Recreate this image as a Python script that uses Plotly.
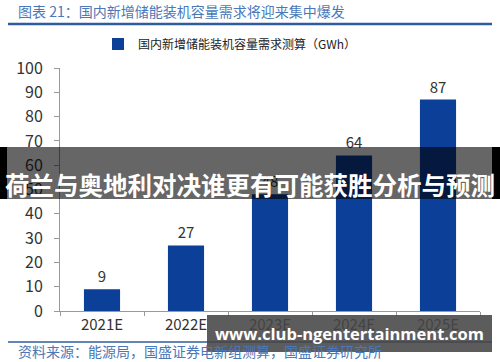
import plotly.graph_objects as go

categories = ["2021E", "2022E", "2023E", "2024E", "2025E"]
values = [9, 27, 48, 64, 87]
y_ticks = [0, 10, 20, 30, 40, 50, 60, 70, 80, 90, 100]
series_name = "国内新增储能装机容量需求测算（GWh）"
title_text = "图表 21：国内新增储能装机容量需求将迎来集中爆发"
source_text = "资料来源：能源局，国盛证券电新组测算，国盛证券研究所"
banner_text = "荷兰与奥地利对决谁更有可能获胜分析与预测"
url_text = "www.club-ngentertainment.com"

W, H = 500, 362
L, R, T, B = 60, 20, 68, 51
PW, PH = W - L - R, H - T - B

def px(x):
    return (x - L) / PW

def py(y):
    return (H - B - y) / PH

FONT = "Noto Sans CJK SC"
BLUE = "#0B3F98"
TXT_BLUE = "#4A78B8"

fig = go.Figure()
fig.add_trace(go.Bar(
    x=categories, y=values, name=series_name,
    marker=dict(color=BLUE, line=dict(width=0)),
    width=0.43,
    text=[str(v) for v in values], textposition="outside",
    textfont=dict(size=15, color="#333333", family=FONT),
    cliponaxis=False,
))

shapes = [
    dict(type="line", xref="paper", yref="paper", x0=px(8), x1=px(492), y0=py(24), y1=py(24),
         line=dict(color="#2F5C9E", width=2.5)),
    dict(type="line", xref="paper", yref="paper", x0=px(8), x1=px(492), y0=py(342), y1=py(342),
         line=dict(color="#2F5C9E", width=1.5)),
    # watermark banner
    dict(type="rect", xref="paper", yref="paper", x0=px(0), x1=px(500), y0=py(147), y1=py(199),
         fillcolor="rgba(0,0,0,0.6)", line=dict(width=0), layer="above"),
    dict(type="rect", xref="paper", yref="paper", x0=px(0), x1=px(7), y0=py(147), y1=py(199),
         fillcolor="rgba(0,0,0,1)", line=dict(width=0), layer="above"),
    dict(type="rect", xref="paper", yref="paper", x0=px(492), x1=px(500), y0=py(147), y1=py(199),
         fillcolor="rgba(0,0,0,1)", line=dict(width=0), layer="above"),
    dict(type="rect", xref="paper", yref="paper", x0=px(207), x1=px(492), y0=py(315), y1=py(352),
         fillcolor="rgba(70,70,70,0.88)", line=dict(width=0), layer="above"),
]

annotations = [
    dict(text=title_text, xref="paper", yref="paper", x=px(16), y=py(11), xanchor="left", yanchor="middle",
         showarrow=False, font=dict(size=14, color=TXT_BLUE, family=FONT)),
    dict(text=source_text, xref="paper", yref="paper", x=px(16), y=py(351), xanchor="left", yanchor="middle",
         showarrow=False, font=dict(size=14, color=TXT_BLUE, family=FONT)),
    dict(text="<b>" + banner_text + "</b>", xref="paper", yref="paper", x=px(250), y=py(184),
         xanchor="center", yanchor="middle", showarrow=False,
         font=dict(size=24.5, color="white", family=FONT)),
    dict(text="<b>" + url_text + "</b>", xref="paper", yref="paper", x=px(349), y=py(333),
         xanchor="center", yanchor="middle", showarrow=False,
         font=dict(size=16.5, color="white", family="Open Sans")),
]

fig.update_layout(
    width=W, height=H,
    margin=dict(l=L, r=R, t=T, b=B, pad=0),
    paper_bgcolor="white", plot_bgcolor="white",
    font=dict(family=FONT, color="#333333"),
    showlegend=True,
    legend=dict(orientation="h", x=px(230), y=py(44), xanchor="center", yanchor="middle",
                font=dict(size=12, color="#222222", family=FONT), bgcolor="rgba(0,0,0,0)",
                itemwidth=30),
    xaxis=dict(type="category", showline=True, linecolor="#999999", linewidth=1,
               ticks="outside", ticklen=4, tickcolor="#999999", tickson="boundaries",
               tickfont=dict(size=15, color="#333333"), showgrid=False, zeroline=False),
    yaxis=dict(range=[0, 100], tickvals=y_ticks, showline=True, linecolor="#999999", linewidth=1,
               ticks="outside", ticklen=5, tickcolor="#999999", ticklabelstandoff=8,
               tickfont=dict(size=16, color="#333333"), showgrid=False, zeroline=False),
    shapes=shapes, annotations=annotations,
    bargap=0.57,
)

fig.write_html("out.html", config={"displayModeBar": False},
               post_script="document.body.style.margin='0';document.body.style.overflow='hidden';")
